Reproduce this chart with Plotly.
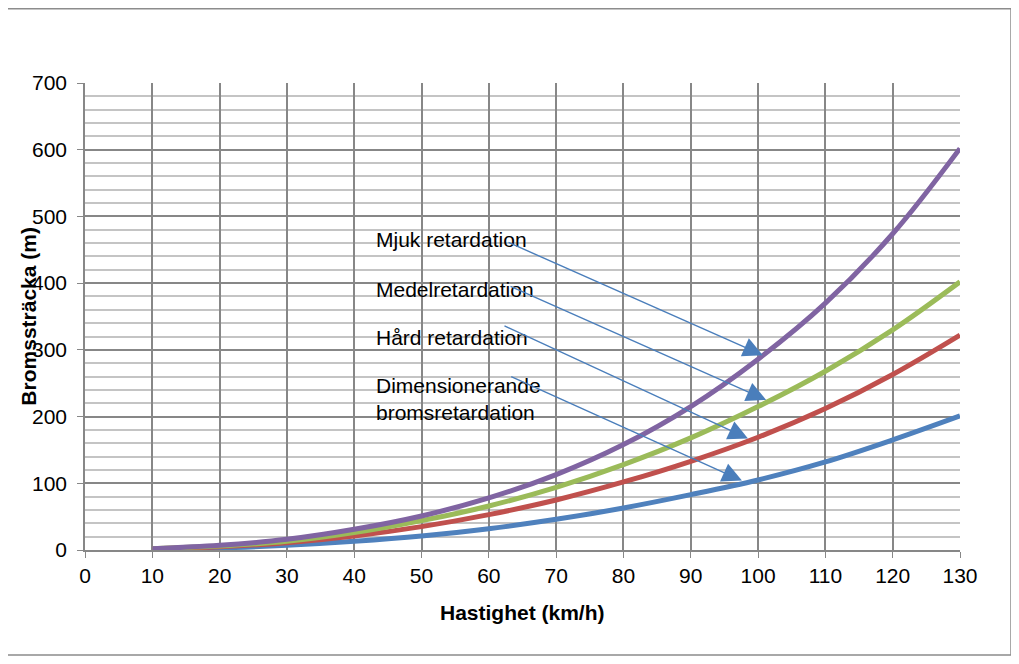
import plotly.graph_objects as go

# -----------------------------------------------------------------------------
# Data (braking distance per speed)
# -----------------------------------------------------------------------------
speed_kmh = [10, 20, 30, 40, 50, 60, 70, 80, 90, 100, 110, 120, 130]

mjuk = [2, 7, 16, 31, 51, 78, 113, 158, 215, 286, 370, 474, 602]
medel = [2, 6, 13, 26, 44, 66, 94, 128, 168, 215, 268, 330, 402]
hard = [2, 5, 11, 21, 35, 53, 75, 102, 133, 169, 212, 263, 322]
dimensionerande = [1, 3, 7, 13, 21, 32, 46, 63, 83, 105, 132, 165, 201]

series_names = ["Dimensionerande bromsretardation", "Hård retardation",
                "Medelretardation", "Mjuk retardation"]
series_values = [dimensionerande, hard, medel, mjuk]
series_colors = ["#4F81BD", "#C0504D", "#9BBB59", "#8064A2"]

# Text labels (left edge x, centre y in data units)
label_texts = ["Mjuk retardation", "Medelretardation", "Hård retardation",
               "Dimensionerande<br>bromsretardation"]
label_x = [42.9, 42.9, 42.9, 42.9]
label_y = [465, 391, 318, 226]

# Arrows: tail (start) and head (end) in data units
arrow_start_x = [62.7, 63.0, 62.1, 63.1]
arrow_start_y = [462, 396, 337, 261]
arrow_end_x = [100.7, 101.2, 98.5, 97.6]
arrow_end_y = [292, 225, 167, 104]

FONT = "Liberation Sans, Arial, sans-serif"
FONT_SIZE = 21
MAJOR_GRID = "#878787"
MINOR_GRID = "#C4C4C4"

fig = go.Figure()

for name, values, color in zip(series_names, series_values, series_colors):
    fig.add_trace(
        go.Scatter(
            x=speed_kmh,
            y=values,
            mode="lines",
            name=name,
            line=dict(color=color, width=5, shape="spline"),
            hoverinfo="x+y+name",
        )
    )

# Callout labels
for txt, x, y in zip(label_texts, label_x, label_y):
    fig.add_annotation(
        x=x, y=y, xref="x", yref="y",
        text=txt, showarrow=False,
        xanchor="left", yanchor="middle", align="left",
        font=dict(family=FONT, size=FONT_SIZE, color="black"),
    )

# Arrows from labels to the curves
for sx, sy, ex, ey in zip(arrow_start_x, arrow_start_y, arrow_end_x, arrow_end_y):
    fig.add_annotation(
        x=ex, y=ey, ax=sx, ay=sy,
        xref="x", yref="y", axref="x", ayref="y",
        text="", showarrow=True,
        arrowhead=2, arrowsize=2.8, arrowwidth=1.4, arrowcolor="#4A7EBB",
    )

# Axis titles
fig.add_annotation(
    x=0.5, y=-0.133, xref="paper", yref="paper",
    xanchor="center", yanchor="middle",
    text="<b>Hastighet (km/h)</b>", showarrow=False,
    font=dict(family=FONT, size=FONT_SIZE, color="black"),
)
fig.add_annotation(
    x=-0.065, y=0.5, xref="paper", yref="paper",
    xanchor="center", yanchor="middle",
    text="<b>Bromssträcka (m)</b>", showarrow=False, textangle=-90,
    font=dict(family=FONT, size=FONT_SIZE, color="black"),
)

# Outer chart border
fig.add_shape(
    type="rect", xref="paper", yref="paper",
    x0=-0.0903, x1=1.0583, y0=-0.225, y1=1.159,
    line=dict(color="#8C8C8C", width=1.5), layer="below",
)

fig.update_xaxes(
    range=[0, 130], dtick=10, tick0=0,
    showgrid=True, gridcolor=MAJOR_GRID, gridwidth=1.5,
    showline=True, linecolor=MAJOR_GRID, linewidth=1.5,
    ticks="outside", ticklen=6, tickcolor=MAJOR_GRID,
    tickfont=dict(family=FONT, size=FONT_SIZE, color="black"),
    zeroline=False,
)
fig.update_yaxes(
    range=[0, 700], dtick=100, tick0=0,
    showgrid=True, gridcolor=MAJOR_GRID, gridwidth=1.5,
    minor=dict(dtick=20, showgrid=True, gridcolor=MINOR_GRID, gridwidth=1.5),
    showline=True, linecolor=MAJOR_GRID, linewidth=1.5,
    ticks="outside", ticklen=6, tickcolor=MAJOR_GRID,
    ticklabelstandoff=6,
    tickfont=dict(family=FONT, size=FONT_SIZE, color="black"),
    zeroline=False,
)

fig.update_layout(
    width=1003, height=648,
    margin=dict(l=77, r=51, t=75, b=106),
    paper_bgcolor="white", plot_bgcolor="white",
    showlegend=False,
    font=dict(family=FONT, size=FONT_SIZE, color="black"),
)

fig.write_html("out.html")
